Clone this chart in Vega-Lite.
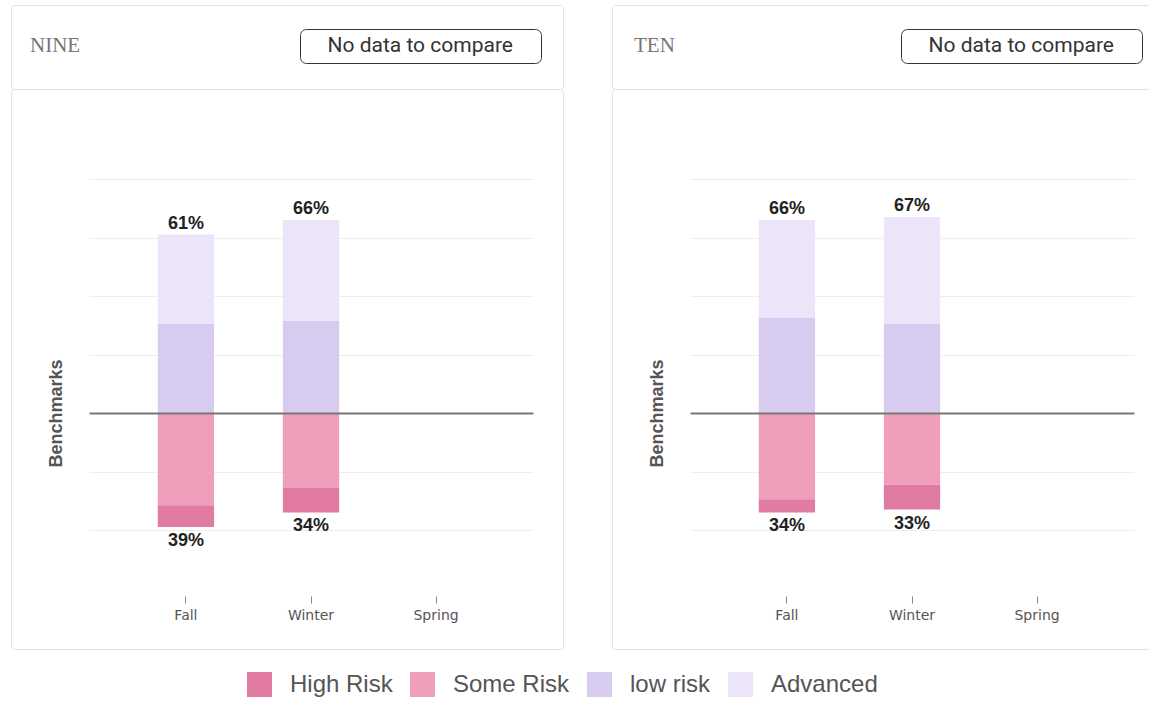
{
  "$schema": "https://vega.github.io/schema/vega-lite/v6.json",
  "background": "white",
  "padding": {"left": 10, "top": 4, "right": -15, "bottom": 0},
  "config": {
    "view": {"stroke": "#e2e2e2", "strokeWidth": 1, "cornerRadius": 3},
    "font": "Liberation Sans"
  },
  "datasets": {
    "segments": [
      {"grade": "NINE", "season": "Fall", "level": "low risk", "share": 0.305},
      {"grade": "NINE", "season": "Fall", "level": "Advanced", "share": 0.305},
      {"grade": "NINE", "season": "Fall", "level": "Some Risk", "share": 0.315},
      {"grade": "NINE", "season": "Fall", "level": "High Risk", "share": 0.075},
      {"grade": "NINE", "season": "Winter", "level": "low risk", "share": 0.315},
      {"grade": "NINE", "season": "Winter", "level": "Advanced", "share": 0.345},
      {"grade": "NINE", "season": "Winter", "level": "Some Risk", "share": 0.255},
      {"grade": "NINE", "season": "Winter", "level": "High Risk", "share": 0.085},
      {"grade": "TEN", "season": "Fall", "level": "low risk", "share": 0.325},
      {"grade": "TEN", "season": "Fall", "level": "Advanced", "share": 0.335},
      {"grade": "TEN", "season": "Fall", "level": "Some Risk", "share": 0.295},
      {"grade": "TEN", "season": "Fall", "level": "High Risk", "share": 0.045},
      {"grade": "TEN", "season": "Winter", "level": "low risk", "share": 0.305},
      {"grade": "TEN", "season": "Winter", "level": "Advanced", "share": 0.365},
      {"grade": "TEN", "season": "Winter", "level": "Some Risk", "share": 0.245},
      {"grade": "TEN", "season": "Winter", "level": "High Risk", "share": 0.085}
    ],
    "status": [
      {"grade": "NINE", "status": "No data to compare"},
      {"grade": "TEN", "status": "No data to compare"}
    ]
  },
  "hconcat": [
    {
      "vconcat": [
        {
          "width": 552, "height": 84,
          "data": {"name": "status"},
          "transform": [{"filter": {"field": "grade", "equal": "NINE"}}],
          "title": {"text": "NINE", "anchor": "start", "frame": "group", "font": "Liberation Serif", "fontSize": 21, "fontWeight": "normal", "color": "#777777", "baseline": "alphabetic", "offset": -68, "dx": 19},
          "mark": {"type": "point", "opacity": 0},
          "encoding": {
            "x": {"field": "grade", "type": "nominal", "axis": null},
            "y": {"field": "grade", "type": "nominal", "axis": null},
            "shape": {"field": "status", "type": "nominal", "legend": {
              "orient": "none", "legendX": 289, "legendY": 24, "title": null,
              "labelExpr": "'\u00a0\u00a0\u00a0\u00a0' + datum.label + '\u00a0\u00a0\u00a0\u00a0\u200b'",
              "labelFont": "Roboto", "labelFontSize": 21, "labelColor": "#333333", "labelLimit": 500, "labelOffset": 0,
              "symbolSize": 0, "symbolOpacity": 0, "symbolStrokeWidth": 0,
              "strokeColor": "#333333", "cornerRadius": 6, "padding": 6.5, "fillColor": "white"
            }}
          }
        },
        {
          "width": 552, "height": 560,
          "data": {"name": "segments"},
          "transform": [{"filter": {"field": "grade", "equal": "NINE"}}],
          "layer": [
            {
              "transform": [{"filter": {"field": "level", "oneOf": ["low risk", "Advanced"]}}],
              "layer": [
                {
                  "mark": {"type": "bar"},
                  "encoding": {
                    "x": {"field": "season", "type": "nominal",
                      "scale": {"domain": ["Fall", "Winter", "Spring"], "range": [78, 522], "paddingInner": 0.55, "paddingOuter": 0.55},
                      "axis": {"orient": "bottom", "offset": -53, "domain": false, "ticks": true, "tickSize": 7, "tickColor": "#888888", "tickWidth": 1, "labelAngle": 0, "labelFont": "DejaVu Sans", "labelFontSize": 14, "labelColor": "#555555", "labelPadding": 5, "title": null, "grid": false}},
                    "y": {"field": "share", "type": "quantitative", "stack": "zero",
                      "scale": {"domain": [0, 0.8], "range": [324, 90], "nice": false},
                      "axis": {"orient": "left", "grid": true, "values": [0.2, 0.4, 0.6, 0.8], "gridColor": "#eeeeee", "gridWidth": 1, "domain": false, "ticks": false, "labels": false, "title": "Benchmarks", "titleFontSize": 18, "titleFontWeight": "bold", "titleColor": "#555555", "titleX": 45, "titleY": 324, "titleBaseline": "middle", "titleAlign": "center", "titleAngle": -90}},
                    "color": {"field": "level", "type": "nominal",
                      "scale": {"domain": ["High Risk", "Some Risk", "low risk", "Advanced"], "range": ["#e27ba1", "#ef9fbb", "#d8cbf0", "#ece4f8"]},
                      "legend": {"orient": "none", "legendX": 236, "legendY": 667, "direction": "horizontal", "title": null, "symbolType": "square", "symbolSize": 625, "symbolStrokeWidth": 0, "symbolOpacity": 1, "labelFontSize": 24, "labelColor": "#555555", "labelOffset": 18, "columnPadding": 17, "labelLimit": 300, "padding": 0}},
                    "order": {"field": "level", "sort": "descending"}
                  }
                },
                {
                  "transform": [{"aggregate": [{"op": "sum", "field": "share", "as": "total"}], "groupby": ["season"]}],
                  "mark": {"type": "text", "baseline": "alphabetic", "dy": -6, "fontSize": 18, "fontWeight": "bold", "color": "#222222"},
                  "encoding": {
                    "x": {"field": "season", "type": "nominal"},
                    "y": {"field": "total", "type": "quantitative"},
                    "text": {"field": "total", "type": "quantitative", "format": ".0%"}
                  }
                }
              ]
            },
            {
              "transform": [{"filter": {"field": "level", "oneOf": ["Some Risk", "High Risk"]}}],
              "layer": [
                {
                  "mark": {"type": "bar"},
                  "encoding": {
                    "x": {"field": "season", "type": "nominal",
                      "axis": {"orient": "top", "offset": -324, "domain": true, "domainColor": "#777777", "domainWidth": 2, "ticks": false, "labels": false, "title": null, "grid": false, "zindex": 1}},
                    "y": {"field": "share", "type": "quantitative", "stack": "zero",
                      "scale": {"domain": [0, 0.8], "range": [324, 558], "nice": false},
                      "axis": {"orient": "left", "grid": true, "values": [0.2, 0.4], "gridColor": "#eeeeee", "gridWidth": 1, "domain": false, "ticks": false, "labels": false, "title": null}},
                    "color": {"field": "level", "type": "nominal"},
                    "order": {"field": "level", "sort": "descending"}
                  }
                },
                {
                  "transform": [{"aggregate": [{"op": "sum", "field": "share", "as": "total"}], "groupby": ["season"]}],
                  "mark": {"type": "text", "baseline": "top", "dy": 5, "fontSize": 18, "fontWeight": "bold", "color": "#222222"},
                  "encoding": {
                    "x": {"field": "season", "type": "nominal"},
                    "y": {"field": "total", "type": "quantitative"},
                    "text": {"field": "total", "type": "quantitative", "format": ".0%"}
                  }
                }
              ]
            }
          ],
          "resolve": {"scale": {"y": "independent"}, "axis": {"x": "independent", "y": "independent"}}
        }
      ],
      "spacing": 0,
      "bounds": "flush"
    },
    {
      "vconcat": [
        {
          "width": 552, "height": 84,
          "data": {"name": "status"},
          "transform": [{"filter": {"field": "grade", "equal": "TEN"}}],
          "title": {"text": "TEN", "anchor": "start", "frame": "group", "font": "Liberation Serif", "fontSize": 21, "fontWeight": "normal", "color": "#777777", "baseline": "alphabetic", "offset": -68, "dx": 22},
          "mark": {"type": "point", "opacity": 0},
          "encoding": {
            "x": {"field": "grade", "type": "nominal", "axis": null},
            "y": {"field": "grade", "type": "nominal", "axis": null},
            "shape": {"field": "status", "type": "nominal", "legend": {
              "orient": "none", "legendX": 289, "legendY": 24, "title": null,
              "labelExpr": "'\u00a0\u00a0\u00a0\u00a0' + datum.label + '\u00a0\u00a0\u00a0\u00a0\u200b'",
              "labelFont": "Roboto", "labelFontSize": 21, "labelColor": "#333333", "labelLimit": 500, "labelOffset": 0,
              "symbolSize": 0, "symbolOpacity": 0, "symbolStrokeWidth": 0,
              "strokeColor": "#333333", "cornerRadius": 6, "padding": 6.5, "fillColor": "white"
            }}
          }
        },
        {
          "width": 552, "height": 560,
          "data": {"name": "segments"},
          "transform": [{"filter": {"field": "grade", "equal": "TEN"}}],
          "layer": [
            {
              "transform": [{"filter": {"field": "level", "oneOf": ["low risk", "Advanced"]}}],
              "layer": [
                {
                  "mark": {"type": "bar"},
                  "encoding": {
                    "x": {"field": "season", "type": "nominal",
                      "scale": {"domain": ["Fall", "Winter", "Spring"], "range": [78, 522], "paddingInner": 0.55, "paddingOuter": 0.55},
                      "axis": {"orient": "bottom", "offset": -53, "domain": false, "ticks": true, "tickSize": 7, "tickColor": "#888888", "tickWidth": 1, "labelAngle": 0, "labelFont": "DejaVu Sans", "labelFontSize": 14, "labelColor": "#555555", "labelPadding": 5, "title": null, "grid": false}},
                    "y": {"field": "share", "type": "quantitative", "stack": "zero",
                      "scale": {"domain": [0, 0.8], "range": [324, 90], "nice": false},
                      "axis": {"orient": "left", "grid": true, "values": [0.2, 0.4, 0.6, 0.8], "gridColor": "#eeeeee", "gridWidth": 1, "domain": false, "ticks": false, "labels": false, "title": "Benchmarks", "titleFontSize": 18, "titleFontWeight": "bold", "titleColor": "#555555", "titleX": 45, "titleY": 324, "titleBaseline": "middle", "titleAlign": "center", "titleAngle": -90}},
                    "color": {"field": "level", "type": "nominal"},
                    "order": {"field": "level", "sort": "descending"}
                  }
                },
                {
                  "transform": [{"aggregate": [{"op": "sum", "field": "share", "as": "total"}], "groupby": ["season"]}],
                  "mark": {"type": "text", "baseline": "alphabetic", "dy": -6, "fontSize": 18, "fontWeight": "bold", "color": "#222222"},
                  "encoding": {
                    "x": {"field": "season", "type": "nominal"},
                    "y": {"field": "total", "type": "quantitative"},
                    "text": {"field": "total", "type": "quantitative", "format": ".0%"}
                  }
                }
              ]
            },
            {
              "transform": [{"filter": {"field": "level", "oneOf": ["Some Risk", "High Risk"]}}],
              "layer": [
                {
                  "mark": {"type": "bar"},
                  "encoding": {
                    "x": {"field": "season", "type": "nominal",
                      "axis": {"orient": "top", "offset": -324, "domain": true, "domainColor": "#777777", "domainWidth": 2, "ticks": false, "labels": false, "title": null, "grid": false, "zindex": 1}},
                    "y": {"field": "share", "type": "quantitative", "stack": "zero",
                      "scale": {"domain": [0, 0.8], "range": [324, 558], "nice": false},
                      "axis": {"orient": "left", "grid": true, "values": [0.2, 0.4], "gridColor": "#eeeeee", "gridWidth": 1, "domain": false, "ticks": false, "labels": false, "title": null}},
                    "color": {"field": "level", "type": "nominal"},
                    "order": {"field": "level", "sort": "descending"}
                  }
                },
                {
                  "transform": [{"aggregate": [{"op": "sum", "field": "share", "as": "total"}], "groupby": ["season"]}],
                  "mark": {"type": "text", "baseline": "top", "dy": 5, "fontSize": 18, "fontWeight": "bold", "color": "#222222"},
                  "encoding": {
                    "x": {"field": "season", "type": "nominal"},
                    "y": {"field": "total", "type": "quantitative"},
                    "text": {"field": "total", "type": "quantitative", "format": ".0%"}
                  }
                }
              ]
            }
          ],
          "resolve": {"scale": {"y": "independent"}, "axis": {"x": "independent", "y": "independent"}}
        }
      ],
      "spacing": 0,
      "bounds": "flush"
    }
  ],
  "spacing": 47,
  "resolve": {"scale": {"shape": "independent"}, "legend": {"shape": "independent"}}
}
